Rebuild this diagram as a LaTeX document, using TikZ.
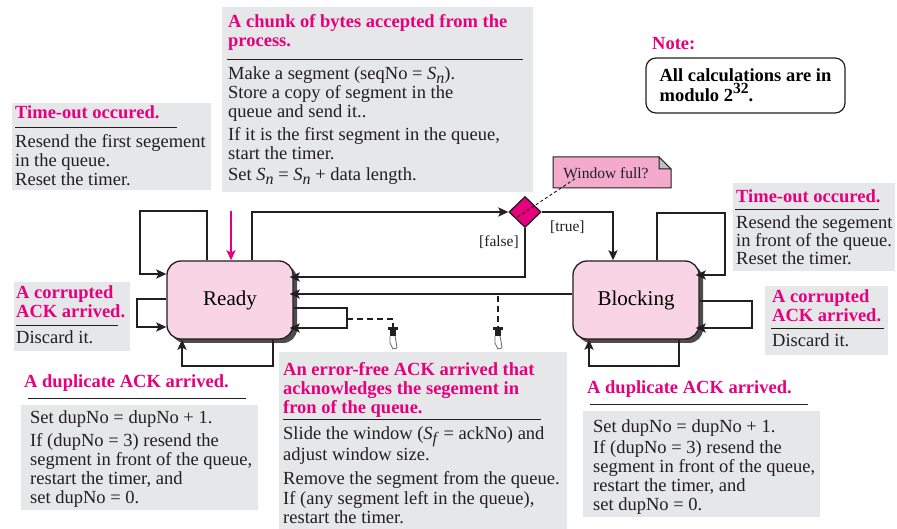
\documentclass[tikz,border=0pt]{standalone}
\usepackage{fontspec}
\setmainfont{Liberation Serif}
\usetikzlibrary{positioning,arrows.meta,shapes.geometric,shadows,calc}

\definecolor{headmag}{RGB}{230,0,126}
\definecolor{notegray}{RGB}{230,231,232}
\definecolor{statefill}{RGB}{249,212,228}
\definecolor{qfill}{RGB}{243,170,204}
\definecolor{inkline}{RGB}{35,31,32}

\newcommand{\txtsize}{\fontsize{18.5}{19}\selectfont}
\newcommand{\seqv}[1]{\textit{S}\raisebox{-4pt}{\fontsize{16}{16}\selectfont\textit{#1}}}

\begin{document}
\begin{tikzpicture}[x=1pt,y=-1pt,
  state/.style={draw=inkline,line width=1.3pt,rounded corners=14pt,fill=statefill,minimum width=126pt,minimum height=78pt,
    font=\fontsize{21}{21}\selectfont,drop shadow={shadow xshift=4pt,shadow yshift=-4pt,fill=black!70,opacity=1}},
  conn/.style={draw=inkline,line width=1.8pt,-{Stealth[length=10pt,width=9pt,inset=2pt]}},
  toshadow/.style={shorten >=-4pt},
  body/.style={inner sep=0pt,anchor=base west,align=left,font=\txtsize,text=inkline},
  head/.style={body,font=\txtsize\bfseries,text=headmag},
  lbl/.style={inner sep=0pt,anchor=base west,font=\fontsize{15.5}{16}\selectfont,text=inkline},
  rule/.style={draw=inkline,line width=0.8pt},
  notebox/.style={draw=inkline,line width=1.2pt,rounded corners=10pt,minimum width=199pt,minimum height=55pt,
    align=left,font=\txtsize\bfseries,inner sep=0pt},
  dashln/.style={draw=inkline,line width=1.8pt,dash pattern=on 6pt off 4pt},
  dotln/.style={draw=inkline,line width=1pt,dash pattern=on 3pt off 2.5pt}]
\useasboundingbox (0,0) rectangle (897,529);

% event boxes (text nodes sit on the baseline of their last line)
\fill[notegray] (12,103) rectangle (211,190);
\node[head] (toL) at (15,119) {Time-out occured.};
\draw[rule] (15,127) -- (177,127);
\node[body] (toLtxt) at (15,186) {Resend the first segement\\in the queue.\\Reset the timer.};

\fill[notegray] (222,7) rectangle (533,192);
\node[head] (chunk) at (228,47) {A chunk of bytes accepted from the\\process.};
\draw[rule] (227,59) -- (523,59);
\node[body] (chunktxt) at (228,181) {Make a segment (seqNo = \seqv{n}).\\Store a copy of segment in the\\queue and send it..\\[4pt]If it is the first segment in the queue,\\start the timer.\\[2pt]Set \seqv{n} = \seqv{n} + data length.};

\node[head] (notehd) at (652,50) {Note:};
\node[notebox] (note) at (745.5,85.5) {All calculations are in\\[1pt]modulo 2\raisebox{8pt}{\fontsize{15.5}{15.5}\selectfont 32}.};

\fill[notegray] (14,282) rectangle (130,351);
\node[head] (corL) at (16,318) {A corrupted\\ACK arrived.};
\draw[rule] (16,325) -- (118,325);
\node[body] (corLtxt) at (16,344) {Discard it.};

\node[head] (dupL) at (24,387) {A duplicate ACK arrived.};
\draw[rule] (28,398) -- (246,398);
\fill[notegray] (21,405) rectangle (258,510);
\node[body] (dupLtxt) at (30,503) {Set dupNo = dupNo + 1.\\[4pt]If (dupNo = 3) resend the\\segment in front of the queue,\\restart the timer, and\\set dupNo = 0.};

\fill[notegray] (733,183) rectangle (895,271);
\node[head] (toR) at (736,203) {Time-out occured.};
\draw[rule] (735,209) -- (879,209);
\node[body] (toRtxt) at (736,265) {Resend the segement\\[-1pt]in front of the queue.\\[-1pt]Reset the timer.};

\fill[notegray] (765,286) rectangle (888,355);
\node[head] (corR) at (772,322) {A corrupted\\ACK arrived.};
\draw[rule] (771,328) -- (884,328);
\node[body] (corRtxt) at (772,347) {Discard it.};

\node[head] (dupR) at (587,393) {A duplicate ACK arrived.};
\draw[rule] (590,404) -- (808,404);
\fill[notegray] (583,411) rectangle (820,517);
\node[body] (dupRtxt) at (593,510) {Set dupNo = dupNo + 1.\\[2pt]If (dupNo = 3) resend the\\segment in front of the queue,\\restart the timer, and\\set dupNo = 0.};

\fill[notegray] (279,352) rectangle (567,529);
\node[head] (ackok) at (283,413) {An error-free ACK arrived that\\acknowledges the segement in\\fron of the queue.};
\draw[rule] (283,419) -- (541,419);
\node[body] (ackoktxt) at (283,523) {Slide the window (\seqv{f} = ackNo) and\\[-1pt]adjust window size.\\[5pt]Remove the segment from the queue.\\[1pt]If (any segment left in the queue),\\restart the timer.};

% states and choice
\node[state] (ready) at (230,300) {Ready};
\node[state] (blocking) at (636,300) {Blocking};
\node[diamond,draw=inkline,line width=1.3pt,fill=headmag,minimum width=32pt,minimum height=31pt,inner sep=0pt] (dia) at (525,212) {};

\filldraw[fill=qfill,draw=inkline,line width=1pt] (553,157) -- (659,157) -- (671,169) -- (671,188) -- (553,188) -- cycle;
\filldraw[fill=black!25,draw=inkline,line width=1pt] (659,157) -- (659,169) -- (671,169) -- cycle;
\node[inner sep=0pt,font=\fontsize{15.5}{16}\selectfont,text=inkline] (wfull) at (606,173) {Window full?};
\draw[dotln] (wfull.south -| 575,0) -- ($(wfull.south -| 575,0)!1.15!(dia.center)$);

\node[lbl] (tlbl) at (550,232) {[true]};
\node[lbl] (flbl) at (479,247) {[false]};

% transitions
\coordinate (chunkin) at (231,211);
\draw[conn,draw=headmag] (chunkin) -- (ready.north -| chunkin);
\draw[conn] (ready.north -| 207,0) |- (140,211) |- (ready.west |- 0,274);
\draw[conn] (ready.north -| 252,0) |- (dia.west);
\draw[conn] (dia.east) -| (blocking.north -| 613,0);
\draw[conn,toshadow] (dia.south) |- (ready.east |- 0,277);
\draw[conn,toshadow] (blocking.west |- 0,294) -- (ready.east |- 0,294);
\draw[conn,toshadow] (ready.east |- 0,308) -- (347,308) -- (347,328) -- (ready.east |- 0,328);
\draw[conn] (ready.west |- 0,299) -- (137,299) -- (137,327) -- (ready.west |- 0,327);
\draw[conn] (ready.south -| 273,0) -- (273,366) -- (182,366) -- (ready.south -| 182,0);
\draw[conn,toshadow] (blocking.north -| 657,0) |- (725,213) |- (blocking.east |- 0,275);
\draw[conn,toshadow] (blocking.east |- 0,301) -- (752,301) -- (752,328) -- (blocking.east |- 0,328);
\draw[conn] (blocking.south -| 679,0) -- (679,366) -- (589,366) -- (blocking.south -| 589,0);

% notes on the ack transitions
\coordinate (rloop) at (347,319);
\coordinate (ackpt) at (498,296);
\coordinate (hand1) at (393,327);
\coordinate (hand2) at (498,327);
\draw[dashln] (rloop) -| (hand1);
\draw[dashln] (ackpt) -- (hand2);
\foreach \h in {hand1,hand2} {
  \fill[inkline] ([xshift=-5pt]\h) rectangle ([xshift=5pt,yshift=-3pt]\h);
  \fill[inkline] ([xshift=-3pt,yshift=-3pt]\h) rectangle ([xshift=3pt,yshift=-9pt]\h);
  \draw[black!60,line width=0.8pt] ([xshift=-3pt,yshift=-9pt]\h) -- ++(0,7) -- ++(3,6) -- ++(4,-1) -- ++(-1,-7) -- ++(-1,-5);
}
\end{tikzpicture}
\end{document}
